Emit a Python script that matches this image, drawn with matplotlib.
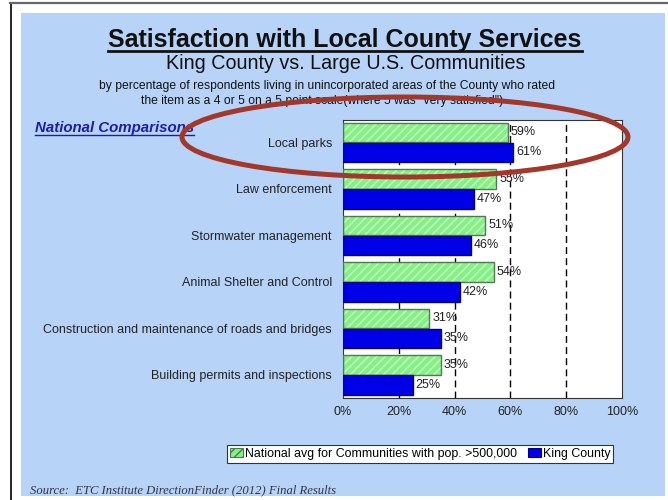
import matplotlib
matplotlib.use("Agg")
import matplotlib.pyplot as plt
from matplotlib.patches import Rectangle, Ellipse, Patch
from matplotlib.lines import Line2D
import numpy as np

plt.rcParams['font.family'] = ['Liberation Sans', 'DejaVu Sans']
plt.rcParams['hatch.linewidth'] = 1.0

categories = ["Local parks", "Law enforcement", "Stormwater management",
              "Animal Shelter and Control",
              "Construction and maintenance of roads and bridges",
              "Building permits and inspections"]
national = [59, 55, 51, 54, 31, 35]
king = [61, 47, 46, 42, 35, 25]
series_names = ["National avg for Communities with pop. >500,000", "King County"]
xticks = [0, 20, 40, 60, 80, 100]
xtick_labels = ["0%", "20%", "40%", "60%", "80%", "100%"]

W, H = 668, 500
fig = plt.figure(figsize=(W / 100, H / 100), dpi=100)
fig.patch.set_facecolor("white")

def fx(px):
    return px / W

def fy(py):
    return 1 - py / H

# outer frame and blue panel
bg = "#B7D4F8"
fig.add_artist(Rectangle((fx(21), fy(496)), fx(644), 483 / H,
                         transform=fig.transFigure, facecolor=bg, edgecolor="none", zorder=-5))
fig.add_artist(Line2D([fx(11), fx(11)], [fy(3), fy(500)], color="black", lw=1.2,
                      transform=fig.transFigure, zorder=-4))
fig.add_artist(Line2D([fx(10), fx(668)], [fy(3), fy(3)], color="#666666", lw=1.6,
                      transform=fig.transFigure, zorder=-4))

ax = fig.add_axes([fx(343), fy(398), fx(622) - fx(343), (398 - 120) / H])
ax.set_zorder(2)
ax.set_facecolor("white")

y = np.arange(len(categories))
h = 0.42
off = 0.215
green_fill = "#86F086"
green_hatch = "#C4FAC4"
green_edge = "#4F7A4F"
blue_fill = "#0000E6"
blue_edge = "#00007A"

for xv in [20, 40, 60, 80]:
    ax.axvline(xv, color="black", lw=1.0, ls=(0, (5, 3)), zorder=1)

ax.barh(y - off, national, height=h, color=green_fill, edgecolor=green_hatch,
        hatch="////", linewidth=0, zorder=2)
ax.barh(y - off, national, height=h, color="none", edgecolor=green_edge, linewidth=1.0, zorder=3)
ax.barh(y + off, king, height=h, color=blue_fill, edgecolor=blue_edge, linewidth=1.0, zorder=3)

for i in range(len(categories)):
    ax.text(national[i] + 1.0, y[i] - off, f"{national[i]}%", va="center", ha="left",
            fontsize=9, color="#222222", zorder=4)
    ax.text(king[i] + 1.0, y[i] + off, f"{king[i]}%", va="center", ha="left",
            fontsize=9, color="#222222", zorder=4)

ax.set_xlim(0, 100)
ax.set_ylim(len(categories) - 0.5, -0.48)
ax.set_xticks(xticks)
ax.set_xticklabels(xtick_labels, fontsize=9, color="#222222")
ax.set_yticks(y)
ax.set_yticklabels(categories, fontsize=9, color="#222222")
ax.tick_params(axis="y", length=0, pad=8)
ax.tick_params(axis="x", length=0, pad=6)
for s in ax.spines.values():
    s.set_linewidth(0.8)
    s.set_color("#333333")

# titles
t1 = fig.text(fx(345), fy(47.5), "Satisfaction with Local County Services", ha="center", va="baseline",
              fontsize=18, fontweight="bold", color="#111111")
fig.text(fx(346), fy(69), "King County vs. Large U.S. Communities", ha="center", va="baseline",
         fontsize=14.2, color="#111111")
fig.text(fx(327), fy(89.5), "by percentage of respondents living in unincorporated areas of the County who rated",
         ha="center", va="baseline", fontsize=8.7, color="#111111")
fig.text(fx(322), fy(104), 'the item as a 4 or 5 on a 5 point scale(where 5 was "very satisfied")',
         ha="center", va="baseline", fontsize=8.7, color="#111111")
t2 = fig.text(fx(35), fy(132), "National Comparisons", ha="left", va="baseline",
              fontsize=10.8, fontweight="bold", fontstyle="italic", color="#1C1CB0")

fig.text(fx(30), fy(493), "Source:  ETC Institute DirectionFinder (2012) Final Results", ha="left", va="baseline",
         fontsize=9.1, fontstyle="italic", family=["Liberation Serif", "DejaVu Serif"], color="#333344")

# legend
handles = [Patch(facecolor=green_fill, edgecolor=green_edge, hatch="////", linewidth=0.8),
           Patch(facecolor=blue_fill, edgecolor=blue_edge, linewidth=0.8)]
leg = fig.legend(handles, series_names, loc="center", bbox_to_anchor=(fx(420), fy(454)), ncol=2,
                 fontsize=8.9, frameon=True, fancybox=False, edgecolor="#333333", framealpha=1,
                 handlelength=1.1, handleheight=0.7, handletextpad=0.1, columnspacing=0.9,
                 borderpad=0.25, borderaxespad=0)
leg.get_frame().set_linewidth(0.8)

# underlines
fig.canvas.draw()
r = fig.canvas.get_renderer()
for t, ypx, lw in [(t1, 50.5, 2.0), (t2, 134.5, 1.0)]:
    bb = t.get_window_extent(r)
    fig.add_artist(Line2D([bb.x0 / W, bb.x1 / W], [fy(ypx), fy(ypx)], color=t.get_color(),
                          lw=lw, transform=fig.transFigure))

# annotation ellipse
fig.add_artist(Ellipse((fx(405), fy(137)), fx(446), 80 / H, transform=fig.transFigure,
                       facecolor="none", edgecolor="#A3372A", lw=3.6, zorder=10))

fig.savefig("out.png", dpi=100)
